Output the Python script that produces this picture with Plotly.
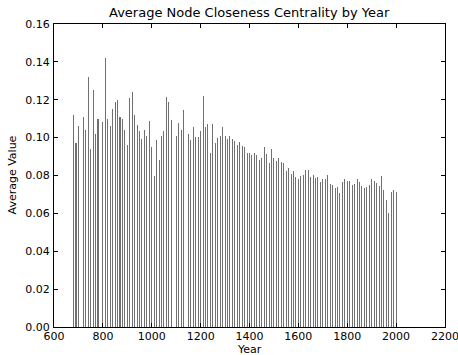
import plotly.graph_objects as go

# Decade samples of the average closeness centrality (a few decades have no data)
years = [680, 690, 700, 720, 730, 740, 750, 760, 770, 780,
         800, 810, 820, 830, 840, 850, 860, 870, 880, 890,
         900, 910, 920, 930, 940, 950, 960, 970, 980, 990,
         1000, 1010, 1020, 1030, 1040, 1050, 1060, 1070, 1080,
         1100, 1110, 1120, 1130, 1150, 1160, 1170, 1180, 1190,
         1200, 1210, 1220, 1230, 1240, 1250, 1260, 1270, 1280, 1290,
         1300, 1310, 1320, 1330, 1340, 1350, 1360, 1370, 1380, 1390,
         1400, 1410, 1420, 1430, 1440, 1450, 1460, 1470, 1480, 1490,
         1500, 1510, 1520, 1530, 1540, 1550, 1560, 1570, 1580, 1590,
         1600, 1610, 1620, 1630, 1640, 1650, 1660, 1670, 1680, 1690,
         1700, 1710, 1720, 1730, 1740, 1750, 1760, 1770, 1780, 1790,
         1800, 1810, 1820, 1830, 1840, 1850, 1860, 1870, 1880, 1890,
         1900, 1910, 1920, 1930, 1940, 1950, 1960, 1970, 1980, 1990,
         2000]
values = [0.112, 0.097, 0.106, 0.111, 0.104, 0.132, 0.094, 0.125, 0.102, 0.110,
          0.108, 0.142, 0.110, 0.106, 0.115, 0.119, 0.120, 0.111, 0.110, 0.104,
          0.096, 0.121, 0.124, 0.112, 0.1065, 0.1035, 0.0995, 0.104, 0.101, 0.109,
          0.095, 0.080, 0.099, 0.088, 0.101, 0.1035, 0.1215, 0.119, 0.1095,
          0.101, 0.1075, 0.104, 0.1145, 0.102, 0.0985, 0.1055, 0.1005, 0.1005,
          0.1035, 0.122, 0.1055, 0.107, 0.092, 0.107, 0.097, 0.100, 0.101, 0.1055,
          0.101, 0.0995, 0.101, 0.0995, 0.098, 0.096, 0.0975, 0.0955, 0.095, 0.092,
          0.092, 0.091, 0.092, 0.091, 0.088, 0.089, 0.095, 0.0915, 0.0865, 0.094,
          0.0895, 0.0875, 0.089, 0.0873, 0.0864, 0.0824, 0.0841, 0.0808, 0.0824, 0.0794,
          0.0783, 0.0797, 0.0803, 0.0829, 0.0829, 0.0794, 0.0803, 0.0788, 0.0794, 0.0767,
          0.078, 0.078, 0.0803, 0.0755, 0.0752, 0.0736, 0.0741, 0.0706, 0.0764, 0.0782,
          0.0769, 0.0769, 0.075, 0.0755, 0.078, 0.0767, 0.0746, 0.0733, 0.0741, 0.0748,
          0.078, 0.0769, 0.0762, 0.0745, 0.0797, 0.0725, 0.0671, 0.0604, 0.0715, 0.0724,
          0.0712]

x_ticks = [600, 800, 1000, 1200, 1400, 1600, 1800, 2000, 2200]
y_ticks = [0.00, 0.02, 0.04, 0.06, 0.08, 0.10, 0.12, 0.14, 0.16]

font = "DejaVu Sans"
W, H = 458, 355
ML, MR, MT, MB = 53.5, 13, 23.5, 27.5

fig = go.Figure(go.Bar(
    x=years,
    y=values,
    width=4.2,
    marker=dict(color="rgba(0,0,0,0.56)", line=dict(width=0)),
))

axis_common = dict(
    showline=True, linecolor="black", linewidth=1, mirror="ticks",
    ticks="inside", ticklen=4, tickwidth=1, tickcolor="black",
    showgrid=False, zeroline=False, automargin=False,
    ticklabeloverflow="allow",
    tickfont=dict(family=font, size=11, color="black"),
)

fig.update_layout(
    width=W, height=H,
    margin=dict(l=ML, r=MR, t=MT, b=MB, autoexpand=False),
    paper_bgcolor="white", plot_bgcolor="white",
    showlegend=False,
    xaxis=dict(range=[599.99, 2200.01], tickvals=x_ticks,
               ticktext=[str(v) for v in x_ticks], ticklabelstandoff=-1,
               **axis_common),
    yaxis=dict(range=[0, 0.16], tickvals=y_ticks,
               ticktext=[f"{v:.2f}" for v in y_ticks], ticklabelstandoff=1,
               **axis_common),
    bargap=0,
    annotations=[
        dict(text="Average Node Closeness Centrality by Year",
             xref="paper", yref="paper", x=0.5, y=1, yshift=12,
             xanchor="center", yanchor="middle", showarrow=False,
             font=dict(family=font, size=13, color="black")),
        dict(text="Year", xref="paper", yref="paper", x=0.5, y=0, yshift=-22,
             xanchor="center", yanchor="middle", showarrow=False,
             font=dict(family=font, size=11, color="black")),
        dict(text="Average Value", xref="paper", yref="paper", x=0, y=0.5,
             xshift=-42, textangle=-90,
             xanchor="center", yanchor="middle", showarrow=False,
             font=dict(family=font, size=11, color="black")),
    ],
)

fig.write_html("out.html")
